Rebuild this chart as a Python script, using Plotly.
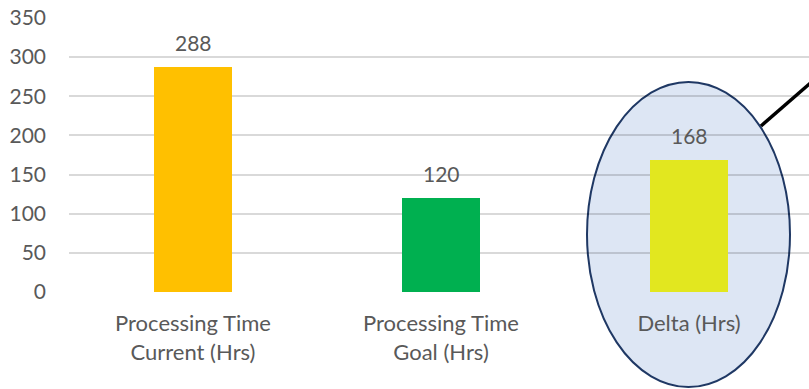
import plotly.graph_objects as go

categories = ["Processing Time<br>Current (Hrs)", "Processing Time<br>Goal (Hrs)", "Delta (Hrs)"]
values = [288, 120, 168]
bar_colors = ["#FFC000", "#00B050", "#E2E71F"]
y_ticks = [0, 50, 100, 150, 200, 250, 300, 350]

W, H = 809, 389
L, R, T, B = 69, 0, 18, 97
FS = 22
TXT = "#595959"

fig = go.Figure()
fig.add_trace(go.Bar(
    x=list(range(len(categories))),
    y=values,
    marker=dict(color=bar_colors, line=dict(width=0)),
    width=0.315,
    hoverinfo="skip",
))

for i, v in enumerate(values):
    fig.add_annotation(
        x=i, y=v, xref="x", yref="y", text=str(v), showarrow=False,
        yanchor="bottom", yshift=10,
        font=dict(size=FS - 1, color=TXT, family="Lato"),
    )

plot_w = W - L - R
fig.update_layout(
    width=W, height=H,
    margin=dict(l=L, r=R, t=T, b=B, pad=0),
    paper_bgcolor="white", plot_bgcolor="rgba(0,0,0,0)",
    showlegend=False,
    font=dict(family="Lato", color=TXT, size=FS),
    bargap=0,
    xaxis=dict(
        range=[-0.5, -0.5 + plot_w / 248.0],
        tickmode="array", tickvals=list(range(len(categories))), ticktext=categories,
        showgrid=False, zeroline=False, showline=False, ticks="",
        ticklabelstandoff=16,
        tickfont=dict(size=FS, color=TXT),
        fixedrange=True,
    ),
    yaxis=dict(
        range=[0, 350],
        tickmode="array", tickvals=y_ticks,
        showgrid=True, gridcolor="rgba(0,0,0,0.15)", gridwidth=1.5,
        zeroline=False, showline=False, ticks="",
        ticklabelstandoff=22,
        tickfont=dict(size=FS - 1, color=TXT),
        fixedrange=True,
    ),
)

def px_x(p):
    return (p - L) / plot_w

def px_y(p):
    return (H - B - p) / (H - T - B)

fig.add_shape(
    type="circle", xref="paper", yref="paper", layer="below",
    x0=px_x(587), x1=px_x(790), y0=px_y(387), y1=px_y(82),
    fillcolor="rgba(180,199,231,0.45)",
    line=dict(color="#1F3864", width=2),
)
fig.add_shape(
    type="line", xref="paper", yref="paper", layer="above",
    x0=px_x(761), y0=px_y(126), x1=px_x(830), y1=px_y(66),
    line=dict(color="black", width=3.5),
)

fig.write_html("out.html")
